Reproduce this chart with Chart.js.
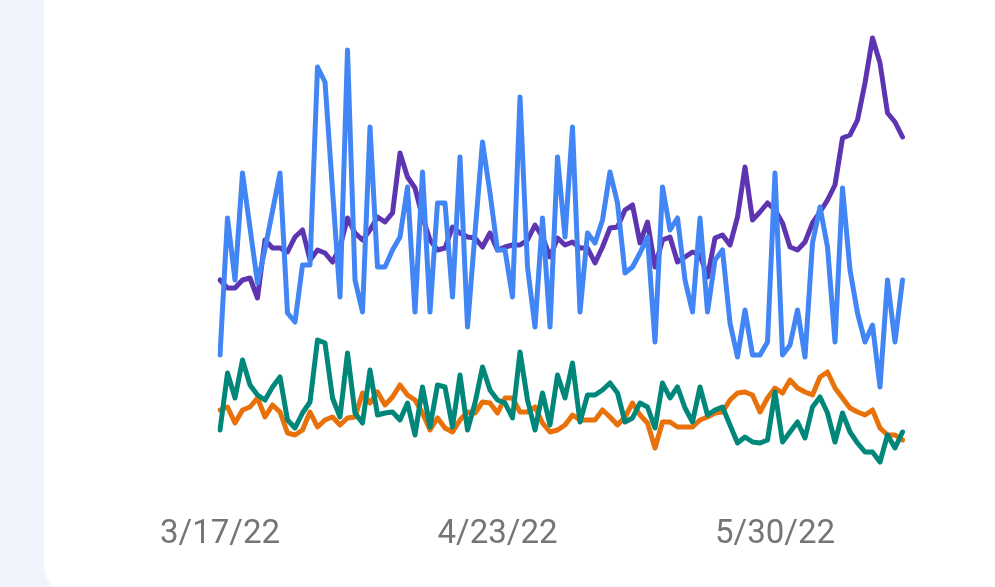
<!DOCTYPE html>
<html>
<head>
<meta charset="utf-8">
<script src="https://cdn.jsdelivr.net/npm/chart.js@4.4.0/dist/chart.umd.min.js"></script>
<style>
  html, body { margin: 0; padding: 0; width: 995px; height: 587px; overflow: hidden; background: #f1f4fd; }
  #card { position: absolute; left: 44px; top: -60px; right: -60px; bottom: -16px; background: #ffffff; border-radius: 40px; }
  #wrap { position: absolute; left: 0; top: 0; width: 995px; height: 587px; }
</style>
</head>
<body>
<div id="card"></div>
<div id="wrap"><canvas id="c" width="995" height="587"></canvas></div>
<script>
// ---- DATA ----
const startDate = [2022, 3, 17];   // first category (M/D/YY axis)
const pointCount = 92;
const tickLabels = ['3/17/22', '4/23/22', '5/30/22'];

const seriesBlue = [125,262,200,307,252,197,231,269,307,167,
  158,215,215,413,398,290,183,430,200,168,
  353,213,213,230,243,293,168,308,168,277,
  277,183,323,153,247,338,287,230,230,183,
  383,213,153,262,153,323,243,353,168,247,
  237,260,308,277,207,213,227,243,138,293,
  250,262,200,168,262,168,220,230,157,123,
  170,125,125,138,307,125,135,170,123,237,
  273,233,138,292,210,167,138,155,93,200,
  138,200];

const seriesPurple = [200,192,192,200,202,182,240,232,232,228,
  243,250,220,230,227,218,233,262,247,240,
  250,263,258,267,327,303,292,263,240,230,
  232,253,247,243,242,233,247,230,233,235,
  235,240,255,243,223,242,235,238,232,232,
  217,233,252,253,270,275,237,258,213,240,
  243,218,223,228,225,203,242,245,235,263,
  313,260,268,277,270,257,233,230,238,257,
  268,280,295,342,345,360,397,442,417,367,
  358,343];

const seriesGreen = [50,107,82,120,95,85,80,93,103,60,
  52,67,78,140,137,82,63,127,67,57,
  110,65,67,68,60,77,45,93,53,95,
  93,53,105,50,77,113,90,80,77,62,
  128,80,50,87,55,105,82,117,58,85,
  85,90,97,87,58,62,77,73,52,97,
  82,93,72,58,93,65,70,73,55,37,
  43,38,37,40,88,38,48,58,42,73,
  83,67,38,67,48,37,28,28,18,45,
  32,48];

const seriesOrange = [70,73,57,70,73,82,63,75,68,47,
  45,50,68,53,60,63,55,62,63,87,
  77,88,75,83,95,85,80,67,50,62,
  52,48,60,68,67,78,77,67,82,82,
  68,68,73,57,48,50,55,65,60,60,
  60,70,63,55,63,77,65,57,32,58,
  58,53,53,53,60,63,67,68,80,87,
  88,85,68,82,92,87,100,92,88,85,
  103,108,92,82,72,68,65,70,52,45,
  45,40];

// ---- categories (daily dates) ----
const categories = [];
{
  const d = new Date(startDate[0], startDate[1] - 1, startDate[2]);
  for (let i = 0; i < pointCount; i++) {
    categories.push((d.getMonth() + 1) + '/' + d.getDate() + '/' + String(d.getFullYear()).slice(2));
    d.setDate(d.getDate() + 1);
  }
}

const lineStyle = { borderWidth: 5, pointRadius: 0, pointHoverRadius: 0, tension: 0, fill: false,
  borderJoinStyle: 'round', borderCapStyle: 'round' };

new Chart(document.getElementById('c'), {
  type: 'line',
  data: {
    labels: categories,
    datasets: [
      Object.assign({ label: 'Blue', data: seriesBlue, borderColor: '#4285f4' }, lineStyle),
      Object.assign({ label: 'Purple', data: seriesPurple, borderColor: '#5e35b1' }, lineStyle),
      Object.assign({ label: 'Green', data: seriesGreen, borderColor: '#01877a' }, lineStyle),
      Object.assign({ label: 'Orange', data: seriesOrange, borderColor: '#e8710a' }, lineStyle)
    ]
  },
  options: {
    responsive: false,
    animation: false,
    layout: { padding: { left: 220, right: 92.5, top: 0, bottom: 0 } },
    plugins: { legend: { display: false }, tooltip: { enabled: false } },
    scales: {
      x: {
        type: 'category',
        offset: false,
        grid: { display: false, drawTicks: false },
        border: { display: false },
        ticks: {
          autoSkip: false, maxRotation: 0, minRotation: 0, padding: 25,
          color: '#757575',
          font: { family: 'Roboto', size: 33 }
        },
        afterBuildTicks: (scale) => {
          scale.ticks = scale.ticks.filter(t => tickLabels.includes(categories[t.value]));
        },
        afterFit: (scale) => { scale.height = 97; }
      },
      y: {
        display: false,
        min: -10,
        max: 480
      }
    }
  }
});
</script>
</body>
</html>
